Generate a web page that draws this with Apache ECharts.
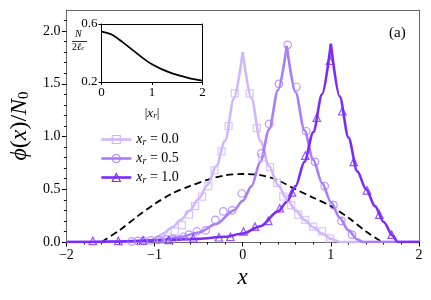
<!DOCTYPE html>
<html><head><meta charset="utf-8">
<script src="https://cdn.jsdelivr.net/npm/echarts@6/dist/echarts.min.js"></script>
<style>html,body{margin:0;padding:0;background:#fff}#c{width:431px;height:300px}</style>
</head><body><div id="c"></div>
<script>
const F = 'Liberation Serif';
// dashed reference curve
const dashX = [-1.6, -1.4, -1.2, -1.0, -0.8, -0.6, -0.4, -0.2, 0, 0.2, 0.4, 0.6, 0.8, 1.0, 1.2, 1.4, 1.58];
const dashY = [0, 0.11, 0.24, 0.36, 0.46, 0.53, 0.59, 0.632, 0.645, 0.635, 0.585, 0.50, 0.42, 0.34, 0.23, 0.10, 0];
// x_r = 0.0 curve (left / right branches)
const lightLX = [-2, -1.1, -1.0, -0.9, -0.8, -0.7, -0.6, -0.5, -0.4, -0.3, -0.2, -0.1, 0];
const lightLY = [0, 0, 0.03, 0.08, 0.14, 0.21, 0.30, 0.41, 0.54, 0.72, 0.96, 1.36, 1.80];
const lightRX = [0, 0.1, 0.2, 0.3, 0.4, 0.5, 0.6, 0.7, 0.8, 0.9, 1.0, 1.1, 2];
const lightRY = [1.80, 1.36, 0.96, 0.72, 0.54, 0.41, 0.30, 0.21, 0.14, 0.08, 0.03, 0, 0];
// x_r = 0.5 curve
const medLX = [-2, -1.3, -1.1, -0.9, -0.7, -0.5, -0.3, -0.1, 0, 0.1, 0.2, 0.3, 0.4, 0.5];
const medLY = [0, 0, 0.01, 0.025, 0.05, 0.09, 0.17, 0.30, 0.39, 0.53, 0.76, 1.07, 1.44, 1.86];
const medRX = [0.5, 0.6, 0.7, 0.8, 0.9, 1.0, 1.1, 1.2, 1.3, 1.36, 2];
const medRY = [1.86, 1.42, 1.06, 0.78, 0.56, 0.38, 0.23, 0.11, 0.025, 0, 0];
// x_r = 1.0 curve
const darkLX = [-2, -1.75, -1.5, -1.0, -0.5, -0.2, 0, 0.2, 0.4, 0.5, 0.6, 0.7, 0.8, 0.9, 1.0];
const darkLY = [0, 0, 0.005, 0.015, 0.03, 0.05, 0.08, 0.15, 0.29, 0.38, 0.53, 0.76, 1.04, 1.40, 1.88];
const darkRX = [1.0, 1.1, 1.2, 1.3, 1.4, 1.5, 1.6, 1.7, 1.76, 2];
const darkRY = [1.88, 1.38, 0.99, 0.67, 0.50, 0.34, 0.19, 0.06, 0, 0];
// markers
const sqX = [-0.93, -0.85, -0.77, -0.69, -0.61, -0.54, -0.46, -0.39, -0.32, -0.24, -0.16, -0.09, 0.08, 0.16, 0.22, 0.31, 0.39, 0.46, 0.55, 0.63, 0.71, 0.80, 0.90, 0.99];
const sqY = [0.02, 0.05, 0.10, 0.16, 0.26, 0.34, 0.43, 0.53, 0.68, 0.86, 1.10, 1.41, 1.41, 1.08, 0.80, 0.71, 0.56, 0.43, 0.35, 0.26, 0.21, 0.145, 0.10, 0.035];
const circX = [-1.26, -1.19, -1.12, -1.04, -0.96, -0.87, -0.79, -0.67, -0.61, -0.52, -0.42, -0.31, -0.22, -0.12, -0.01, 0.21, 0.30, 0.41, 0.51, 0.61, 0.72, 0.82, 0.93, 1.03, 1.12, 1.24];
const circY = [0.005, 0.01, 0.01, 0.015, 0.02, 0.025, 0.03, 0.05, 0.07, 0.10, 0.11, 0.21, 0.29, 0.30, 0.46, 0.84, 1.12, 1.50, 1.87, 1.47, 1.05, 0.76, 0.53, 0.35, 0.20, 0.07];
const triX = [-1.70, -1.41, -1.13, -0.84, -0.56, -0.27, -0.14, 0.01, 0.14, 0.29, 0.42, 0.56, 0.71, 0.84, 0.99, 1.13, 1.26, 1.41, 1.55, 1.69];
const triY = [0.01, 0.01, 0.015, 0.02, 0.035, 0.045, 0.05, 0.10, 0.145, 0.20, 0.32, 0.47, 0.82, 1.18, 1.72, 1.24, 0.76, 0.49, 0.26, 0.07];
// inset
const insX = [0, 0.2, 0.4, 0.6, 0.8, 1.0, 1.2, 1.4, 1.6, 1.8, 2.0];
const insY = [0.548, 0.528, 0.48, 0.425, 0.37, 0.322, 0.287, 0.26, 0.24, 0.222, 0.21];
// tick labels
const yTicks = [0, 0.5, 1.0, 1.5, 2.0];
const insYTicks = [0.2, 0.6];
const legendNames = ['0.0', '0.5', '1.0'];

const C0 = '#d0b6fd', C1 = '#a87ef8', C2 = '#7b2cfc';
const pair = (xs, ys) => xs.map((x, i) => [x, ys[i]]);

const chart = echarts.init(document.getElementById('c'));

function curve(name, xs, ys, color, symbol) {
  const s = {type: 'line', data: pair(xs, ys), smooth: 0.3, smoothMonotone: 'x', showSymbol: false,
    lineStyle: {color: color, width: 2.6}, itemStyle: {color: color}, z: 3, silent: true};
  if (name) { s.name = name; s.symbol = symbol; }
  return s;
}
function marks(xs, ys, color, symbol, size) {
  return {type: 'scatter', data: pair(xs, ys), symbol: symbol, symbolSize: size,
    itemStyle: {color: 'rgba(255,255,255,0)', borderColor: color, borderWidth: 1.2}, z: 4, silent: true};
}
// frame-only axis (top / right border)
function frameAxis(grid, pos, min, max, color) {
  return {gridIndex: grid, type: 'value', min: min, max: max, position: pos,
    axisLine: {show: true, onZero: false, lineStyle: {color: color, width: 1}},
    axisTick: {show: false}, axisLabel: {show: false}, splitLine: {show: false}};
}

const richBase = {
  n: {fontFamily: F, fontSize: 14, color: '#000'},
  i: {fontFamily: F, fontSize: 14, fontStyle: 'italic', color: '#000'},
  s: {fontFamily: F, fontSize: 10, fontStyle: 'italic', color: '#000', verticalAlign: 'bottom'}
};
const richInset = {
  n: {fontFamily: F, fontSize: 13, color: '#000'},
  i: {fontFamily: F, fontSize: 13, fontStyle: 'italic', color: '#000'},
  s: {fontFamily: F, fontSize: 9, fontStyle: 'italic', color: '#000', verticalAlign: 'bottom'}
};

const option = {
  animation: false,
  backgroundColor: '#fff',
  grid: [
    {left: 66, top: 10, width: 353, height: 232},
    {left: 101.5, top: 24, width: 101, height: 58}
  ],
  xAxis: [
    {gridIndex: 0, type: 'value', min: -2, max: 2, interval: 1, position: 'bottom',
     axisLine: {show: true, onZero: false, lineStyle: {color: '#666', width: 1}}, splitLine: {show: false},
     axisTick: {show: true, length: 4.5, lineStyle: {color: '#000', width: 1}},
     minorTick: {show: true, splitNumber: 5, length: 2.5, lineStyle: {color: '#000', width: 1}},
     axisLabel: {fontFamily: F, fontSize: 14, color: '#000', margin: 6, formatter: v => (v < 0 ? '\u2212' + (-v) : '' + v)},
     name: '{i|x}', nameLocation: 'middle', nameGap: 24,
     nameTextStyle: {rich: {i: {fontFamily: F, fontSize: 23, fontStyle: 'italic', color: '#000'}}}},
    frameAxis(0, 'top', -2, 2, '#666'),
    {gridIndex: 1, type: 'value', min: 0, max: 2, interval: 1, position: 'bottom',
     axisLine: {show: true, onZero: false, lineStyle: {color: '#000', width: 1}}, splitLine: {show: false},
     axisTick: {show: true, length: 3, lineStyle: {color: '#000'}},
     axisLabel: {fontFamily: F, fontSize: 13, color: '#000', margin: 4},
     name: '{n||}{i|x}{s|r}{n||}', nameLocation: 'middle', nameGap: 25,
     nameTextStyle: {rich: richInset}},
    frameAxis(1, 'top', 0, 2, '#000')
  ],
  yAxis: [
    {gridIndex: 0, type: 'value', min: 0, max: 2.2, interval: 0.5, position: 'left',
     axisLine: {show: true, onZero: false, lineStyle: {color: '#666', width: 1}}, splitLine: {show: false},
     axisTick: {show: true, length: 4.5, customValues: yTicks, lineStyle: {color: '#000', width: 1}},
     minorTick: {show: true, splitNumber: 5, length: 2.5, lineStyle: {color: '#000', width: 1}},
     axisLabel: {fontFamily: F, fontSize: 14, color: '#000', margin: 6, customValues: yTicks, formatter: v => v.toFixed(1)},
     name: '{i|ϕ}{n|(}{i|x}{n|)/}{i|N}{s|0}', nameLocation: 'middle', nameGap: 31, nameRotate: 90,
     nameTextStyle: {rich: {
       n: {fontFamily: F, fontSize: 24, color: '#000'},
       i: {fontFamily: F, fontSize: 24, fontStyle: 'italic', color: '#000'},
       s: {fontFamily: F, fontSize: 15, color: '#000', verticalAlign: 'bottom'}}}},
    frameAxis(0, 'right', 0, 2.2, '#666'),
    {gridIndex: 1, type: 'value', min: 0.2, max: 0.6, interval: 0.4, position: 'left',
     axisLine: {show: true, onZero: false, lineStyle: {color: '#000', width: 1}}, splitLine: {show: false},
     axisTick: {show: true, length: 3, customValues: insYTicks, lineStyle: {color: '#000'}},
     axisLabel: {fontFamily: F, fontSize: 13, color: '#000', margin: 4, customValues: insYTicks, formatter: v => v.toFixed(1)}},
    frameAxis(1, 'right', 0.2, 0.6, '#000')
  ],
  legend: {
    orient: 'vertical', left: 95, top: 127, itemWidth: 30, itemHeight: 10, itemGap: 4,
    selectedMode: false,
    data: [
      {name: 'a0', itemStyle: {color: 'rgba(255,255,255,0)', borderColor: C0, borderWidth: 1.2}, lineStyle: {color: C0, width: 2.6}},
      {name: 'a1', itemStyle: {color: 'rgba(255,255,255,0)', borderColor: C1, borderWidth: 1.2}, lineStyle: {color: C1, width: 2.6}},
      {name: 'a2', itemStyle: {color: 'rgba(255,255,255,0)', borderColor: C2, borderWidth: 1.2}, lineStyle: {color: C2, width: 2.6}}
    ],
    formatter: n => '{i|x}{s|r}{n| = ' + legendNames[+n.slice(1)] + '}',
    textStyle: {lineHeight: 15, rich: richBase}
  },
  graphic: [
    {type: 'text', left: 389, top: 26, style: {text: '(a)', font: '15px "Liberation Serif"', fill: '#000'}},
    {type: 'text', left: 75, top: 29, z: 20, style: {text: 'N', font: 'italic 10px "Liberation Serif"', fill: '#000'}},
    {type: 'line', z: 20, shape: {x1: 72, y1: 41.5, x2: 87, y2: 41.5}, style: {stroke: '#000', lineWidth: 0.8}},
    {type: 'text', left: 72, top: 42, z: 20, style: {text: '{n|2}{i|ℓ}{s|c}', rich: {
      n: {fontFamily: F, fontSize: 10, fill: '#000'},
      i: {fontFamily: F, fontSize: 10, fontStyle: 'italic', fill: '#000'},
      s: {fontFamily: F, fontSize: 7, fontStyle: 'italic', fill: '#000', verticalAlign: 'bottom'}}}}
  ],
  series: [
    {type: 'line', data: pair(dashX, dashY), smooth: 0.3, showSymbol: false, z: 2, silent: true,
     lineStyle: {color: '#000', width: 1.8, type: [7, 4]}},
    curve('a0', lightLX, lightLY, C0, 'rect'),
    curve(null, lightRX, lightRY, C0),
    marks(sqX, sqY, C0, 'rect', 7),
    curve('a1', medLX, medLY, C1, 'circle'),
    curve(null, medRX, medRY, C1),
    marks(circX, circY, C1, 'circle', 7.5),
    curve('a2', darkLX, darkLY, C2, 'triangle'),
    curve(null, darkRX, darkRY, C2),
    marks(triX, triY, C2, 'triangle', 7.5),
    {type: 'line', xAxisIndex: 2, yAxisIndex: 2, data: pair(insX, insY), smooth: 0.3, showSymbol: false,
     lineStyle: {color: '#000', width: 1.8}, z: 12, silent: true}
  ]
};
chart.setOption(option);
</script></body></html>
